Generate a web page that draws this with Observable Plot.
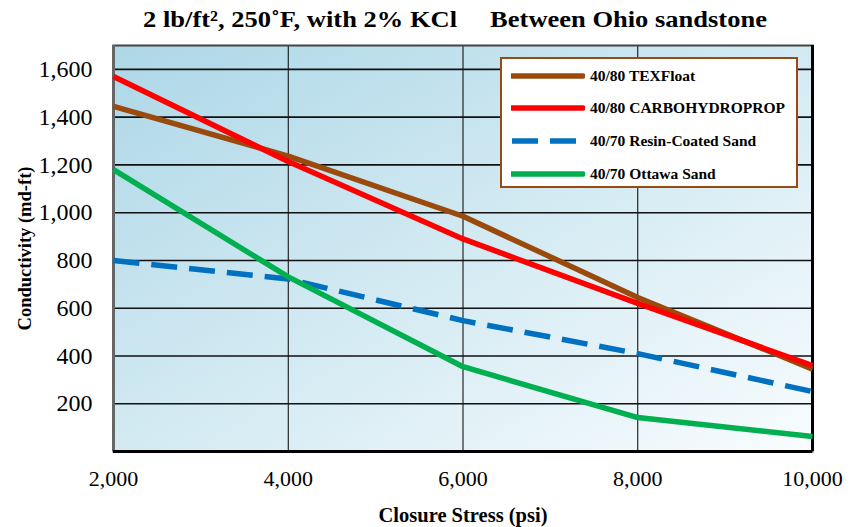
<!DOCTYPE html>
<html>
<head>
<meta charset="utf-8">
<script src="https://cdn.jsdelivr.net/npm/d3@7"></script>
<script src="https://cdn.jsdelivr.net/npm/@observablehq/plot@0.6"></script>
<style>
  html, body { margin: 0; padding: 0; background: #fff; }
  #wrap { position: relative; width: 862px; height: 527px; font-family: "Liberation Serif", "Times New Roman", serif; overflow: hidden; }
  #title { position: absolute; left: 0; width: 910px; top: 1px; text-align: center; font-weight: bold; font-size: 26.5px; line-height: 36px; color: #000; white-space: pre; transform: scale(1, 0.85); transform-origin: 50% 50%; }
  #legend { position: absolute; left: 500px; top: 57px; width: 294px; height: 127px; border: 2px solid #9a4a10; background: #fff; }
  .item { position: absolute; left: 9px; height: 20px; display: flex; align-items: center; font-weight: bold; font-size: 15.5px; white-space: nowrap; }
  .item svg { margin-right: 5px; }
  g[aria-label="y-axis label"] text { font-weight: bold; font-size: 18.5px; }
  g[aria-label="x-axis label"] text { font-weight: bold; font-size: 20.5px; }
</style>
</head>
<body>
<div id="wrap">
  <div id="chart"></div>
  <div id="title"></div>
  <div id="legend"></div>
</div>
<script>
const titleText = "2 lb/ft², 250˚F, with 2% KCl     Between Ohio sandstone";
const stress = [2000, 4000, 6000, 8000, 10000];
const seriesNames = ["40/80 TEXFloat", "40/80 CARBOHYDROPROP", "40/70 Resin-Coated Sand", "40/70 Ottawa Sand"];
const texfloat = [1445, 1237, 985, 645, 345];
const carbo = [1570, 1214, 890, 620, 360];
const resin = [800, 722, 548, 410, 251];
const ottawa = [1180, 731, 355, 142, 63];
const seriesColors = ["#9a4a0c", "#ff0000", "#0070c0", "#00b050"];
const seriesDash = [null, null, "26,12", null];
const xTicks = [2000, 4000, 6000, 8000, 10000];
const yTicks = [200, 400, 600, 800, 1000, 1200, 1400, 1600];

const values = [texfloat, carbo, resin, ottawa];
const rows = [];
values.forEach((vals, i) => vals.forEach((v, j) => rows.push({series: seriesNames[i], x: stress[j], y: v})));

document.getElementById("title").textContent = titleText;

const plot = Plot.plot({
  width: 862,
  height: 527,
  marginTop: 45,
  marginLeft: 113,
  marginRight: 50,
  marginBottom: 76,
  style: {fontFamily: "Liberation Serif, Times New Roman, serif", fontSize: "22px", color: "#000", background: "transparent", overflow: "visible"},
  x: {domain: [2000, 10000]},
  y: {domain: [0, 1700]},
  marks: [
    Plot.frame({fill: "url(#bgGrad)", stroke: null}),
    Plot.gridX(xTicks, {stroke: "#000", strokeOpacity: 1, strokeWidth: 1}),
    Plot.gridY(yTicks, {stroke: "#111", strokeOpacity: 1, strokeWidth: 1.6}),
    Plot.frame({stroke: "#444", strokeWidth: 2}),
    Plot.ruleX([2000], {stroke: "#666", strokeWidth: 3}),
    Plot.ruleY([0], {stroke: "#000", strokeWidth: 3}),
    Plot.ruleX([10000], {stroke: "#000", strokeWidth: 3}),
    ...seriesNames.map((name, i) =>
      Plot.line(rows.filter(d => d.series === name), {
        x: "x", y: "y",
        stroke: seriesColors[i],
        strokeWidth: 5.5,
        strokeDasharray: seriesDash[i] || undefined,
        strokeLinecap: "butt",
        strokeLinejoin: "round"
      })
    ),
    Plot.axisX(xTicks, {tickSize: 0, tickPadding: 19, fontSize: 22, tickFormat: d3.format(","), label: "Closure Stress (psi)", labelAnchor: "center", labelOffset: 70, labelArrow: "none"}),
    Plot.axisY(yTicks, {tickSize: 0, tickPadding: 21, fontSize: 24, tickFormat: d3.format(","), label: "Conductivity (md-ft)", labelAnchor: "center", labelOffset: 96, labelArrow: "none"})
  ]
});

// strip any arrow glyphs from axis labels
plot.querySelectorAll("text").forEach(t => {
  if (/[↑↓←→]/.test(t.textContent)) t.textContent = t.textContent.replace(/\s*[↑↓←→]\s*/g, "");
});

// gradient background definition
const ns = "http://www.w3.org/2000/svg";
const defs = document.createElementNS(ns, "defs");
const grad = document.createElementNS(ns, "linearGradient");
grad.setAttribute("id", "bgGrad");
grad.setAttribute("x1", "0"); grad.setAttribute("y1", "0");
grad.setAttribute("x2", "1"); grad.setAttribute("y2", "1");
[["0%", "#add7e7"], ["45%", "#cfe8f1"], ["100%", "#f8fcfe"]].forEach(([o, c]) => {
  const s = document.createElementNS(ns, "stop");
  s.setAttribute("offset", o); s.setAttribute("stop-color", c);
  grad.appendChild(s);
});
defs.appendChild(grad);
plot.insertBefore(defs, plot.firstChild);
document.getElementById("chart").appendChild(plot);

// legend
const legend = document.getElementById("legend");
const tops = [7, 39, 72, 105];
seriesNames.forEach((name, i) => {
  const item = document.createElement("div");
  item.className = "item";
  item.style.top = tops[i] + "px";
  const dash = seriesDash[i] ? `stroke-dasharray="${seriesDash[i]}"` : "";
  item.innerHTML = `<svg width="74" height="10"><line x1="1" y1="5" x2="72" y2="5" stroke="${seriesColors[i]}" stroke-width="5.5" stroke-linecap="${seriesDash[i] ? 'butt' : 'round'}" ${dash}/></svg><span>${name}</span>`;
  legend.appendChild(item);
});
</script>
</body>
</html>
